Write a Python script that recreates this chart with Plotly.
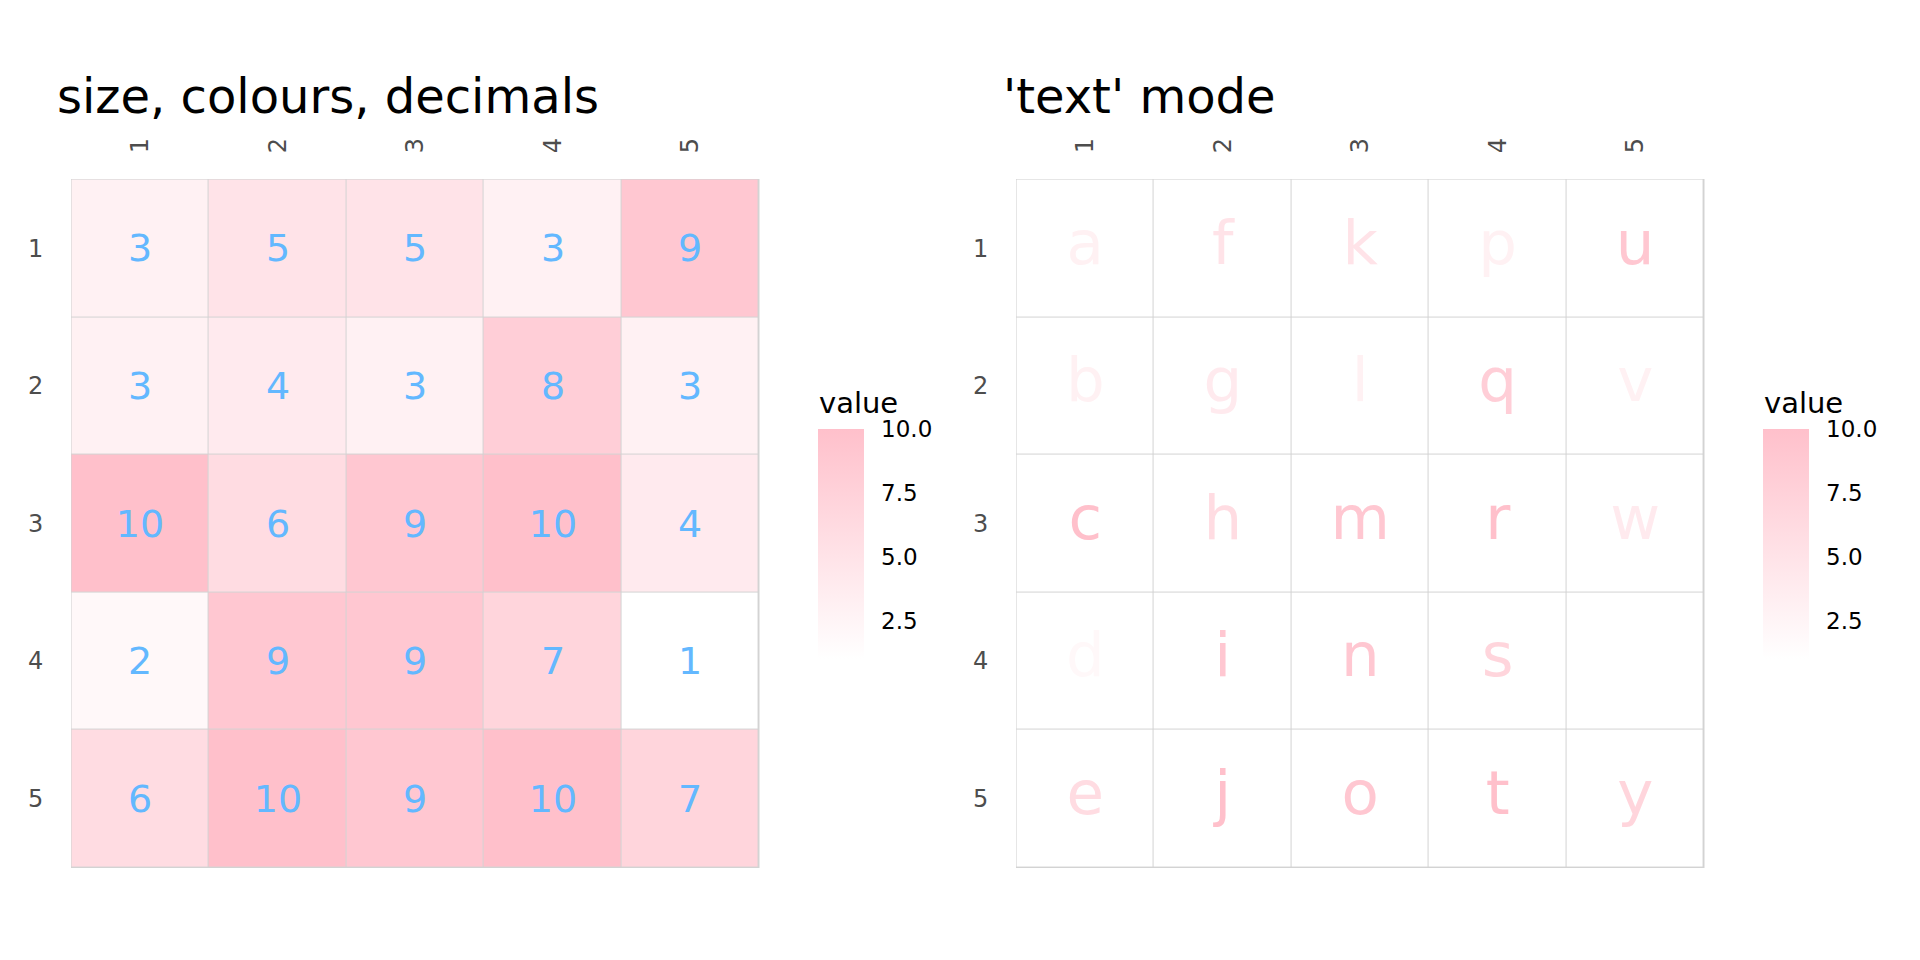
import plotly.graph_objs as go
from plotly.subplots import make_subplots
from plotly.colors import sample_colorscale

# grid data: rows (y) x columns (x)
cols = [1, 2, 3, 4, 5]
rows = [1, 2, 3, 4, 5]
values = [
    [3, 5, 5, 3, 9],
    [3, 4, 3, 8, 3],
    [10, 6, 9, 10, 4],
    [2, 9, 9, 7, 1],
    [6, 10, 9, 10, 7],
]
letters = list("abcdefghijklmnopqrstuvwxy")  # filled column by column
titles = ["size, colours, decimals", "'text' mode"]
bar_ticks = [2.5, 5, 7.5, 10]
bar_labels = ["2.5", "5.0", "7.5", "10.0"]

vmin, vmax = 1, 10
pink_scale = [[0, "#FFFFFF"], [1, "#FFC0CB"]]
font = "DejaVu Sans"

# page has an 8px body margin, so the figure is 1904x944 drawn at (8, 8)
W, H, OFF = 1904, 944, 8


def fx(px):
    return (px - OFF) / W


def fy(px):
    return 1 - (px - OFF) / H


def colorbar(xpx):
    return dict(
        x=fx(xpx), xanchor="left", y=fy(544), yanchor="middle",
        xpad=0, ypad=0,
        thickness=46, thicknessmode="pixels", len=230, lenmode="pixels",
        outlinewidth=0, tickvals=bar_ticks, ticktext=bar_labels,
        ticks="outside", ticklen=13, tickcolor="rgba(0,0,0,0)",
        tickfont=dict(family=font, size=23, color="black"),
    )


fig = make_subplots(rows=1, cols=2)

# left panel: filled tiles with the value printed in each
fig.add_trace(go.Heatmap(
    x=cols, y=rows, z=values, zmin=vmin, zmax=vmax,
    colorscale=pink_scale, xgap=1, ygap=1,
    texttemplate="%{z}",
    textfont=dict(family=font, size=38, color="#63B8FF"),
    hoverinfo="skip", colorbar=colorbar(817.7),
), row=1, col=1)

# right panel: blank tiles, letters coloured by value
fig.add_trace(go.Heatmap(
    x=cols, y=rows, z=values, zmin=vmin, zmax=vmax,
    colorscale=[[0, "white"], [1, "white"]], showscale=False,
    xgap=1, ygap=1, hoverinfo="skip",
), row=1, col=2)

tx, ty, tlab, tval = [], [], [], []
for ci, c in enumerate(cols):
    for ri, r in enumerate(rows):
        tx.append(c)
        ty.append(r)
        tlab.append(letters[ci * len(rows) + ri])
        tval.append(values[ri][ci])
tcol = sample_colorscale(pink_scale, [(v - vmin) / (vmax - vmin) for v in tval])

fig.add_trace(go.Scatter(
    x=tx, y=ty, text=tlab, mode="markers+text",
    textfont=dict(family=font, size=61, color=tcol),
    marker=dict(color=tval, cmin=vmin, cmax=vmax, colorscale=pink_scale,
                size=1, opacity=0, showscale=True,
                colorbar=colorbar(1762.7)),
    hoverinfo="skip", showlegend=False,
), row=1, col=2)

xdoms = [[fx(71), fx(759.5)], [fx(1016), fx(1704.5)]]
ydom = [fy(868), fy(179)]
for i in (1, 2):
    fig.update_xaxes(domain=xdoms[i - 1], range=[0.496, 5.504], side="top",
                     tickvals=cols, tickangle=-90, ticks="outside",
                     ticklen=20, tickcolor="rgba(0,0,0,0)",
                     showgrid=False, zeroline=False, showline=False,
                     automargin=False,
                     tickfont=dict(family=font, size=24, color="#4D4D4D"),
                     row=1, col=i)
    fig.update_yaxes(domain=ydom, range=[5.504, 0.496], tickvals=rows,
                     ticks="outside", ticklen=22,
                     tickcolor="rgba(0,0,0,0)",
                     showgrid=False, zeroline=False, showline=False,
                     automargin=False,
                     tickfont=dict(family=font, size=24, color="#4D4D4D"),
                     row=1, col=i)

# panel titles
for t, xl in zip(titles, [55, 1001]):
    fig.add_annotation(text=t, xref="paper", yref="paper", x=fx(xl),
                       y=fy(96), xanchor="left", yanchor="middle",
                       showarrow=False,
                       font=dict(family=font, size=48, color="black"))

# colour bar titles
for xl in [819, 1764]:
    fig.add_annotation(text="value", xref="paper", yref="paper", x=fx(xl),
                       y=fy(403), xanchor="left", yanchor="middle",
                       showarrow=False, xshift=-2,
                       font=dict(family=font, size=29, color="black"))

fig.update_layout(
    width=W, height=H,
    margin=dict(l=0, r=0, t=0, b=0),
    paper_bgcolor="white", plot_bgcolor="#D3D3D3",
    font=dict(family=font),
    showlegend=False,
)

fig.write_html("out.html")
